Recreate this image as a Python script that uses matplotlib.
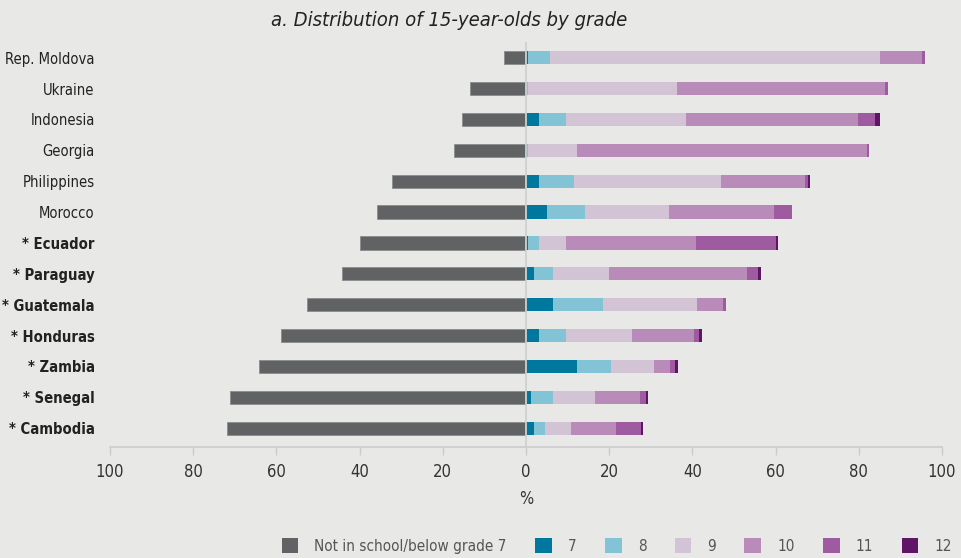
import numpy as np
import matplotlib
matplotlib.use("Agg")
import matplotlib.pyplot as plt
from matplotlib.patches import Patch

# ---- data ---------------------------------------------------------------------
countries = ["Rep. Moldova", "Ukraine", "Indonesia", "Georgia", "Philippines",
             "Morocco", "* Ecuador", "* Paraguay", "* Guatemala", "* Honduras",
             "* Zambia", "* Senegal", "* Cambodia"]
not_in_school = [5.2, 13.5, 15.4, 17.3, 32.1, 35.9, 39.8, 44.3, 52.6, 59.0, 64.1, 71.2, 71.8]
grade7 = [0.6, 0.0, 3.2, 0.3, 3.2, 5.1, 0.6, 1.9, 6.4, 3.2, 12.2, 1.3, 1.9]
grade8 = [5.2, 0.5, 6.4, 0.3, 8.3, 9.0, 2.6, 4.6, 12.2, 6.4, 8.3, 5.2, 2.6]
grade9 = [79.3, 35.9, 28.8, 11.6, 35.3, 20.4, 6.4, 13.4, 22.4, 15.9, 10.2, 10.1, 6.3]
grade10 = [10.2, 49.8, 41.5, 69.7, 20.3, 25.0, 31.2, 33.2, 6.3, 14.8, 3.9, 10.8, 10.9]
grade11 = [0.6, 0.8, 4.0, 0.6, 0.8, 4.5, 19.4, 2.7, 0.7, 1.3, 1.3, 1.4, 5.9]
grade12 = [0.0, 0.0, 1.2, 0.0, 0.4, 0.0, 0.5, 0.6, 0.0, 0.6, 0.6, 0.6, 0.6]
grade_labels = ["7", "8", "9", "10", "11", "12"]
xticks = [-100, -80, -60, -40, -20, 0, 20, 40, 60, 80, 100]

# ---- style --------------------------------------------------------------------
bg = "#e8e9e6"
c_gray = "#616264"
grade_colors = ["#00789e", "#82c4d5", "#d2c3d5", "#b88bb8", "#9f5ba0", "#601466"]

plt.rcParams["font.family"] = ["DejaVu Sans"]
plt.rcParams["font.stretch"] = "condensed"   # uses DejaVu Sans Condensed if it is there

fig = plt.figure(figsize=(9.62, 5.58), dpi=100, facecolor=bg)
ax = fig.add_axes([0.1143, 0.1995, 0.8649, 0.7258], facecolor=bg)

y = np.arange(len(countries))
h = 0.43

ax.barh(y, -np.array(not_in_school), height=h, color=c_gray,
        edgecolor="#8a8b8c", linewidth=0.6, zorder=2)

grades = [grade7, grade8, grade9, grade10, grade11, grade12]
left = np.zeros(len(countries))
for vals, col in zip(grades, grade_colors):
    vals = np.array(vals)
    ax.barh(y, vals, left=left, height=h, color=col, linewidth=0, zorder=2)
    left += vals

ax.axvline(0, color="#cfd0cf", lw=1.3, zorder=3)

ax.set_xlim(-100, 100)
ax.set_ylim(12.6, -0.52)
ax.set_xticks(xticks)
ax.set_xticklabels([str(abs(t)) for t in xticks], fontsize=12, color="#333333")
ax.tick_params(axis="x", direction="out", length=6, width=1, color="#cccccc", pad=6)
ax.set_yticks(y)
ax.set_yticklabels(countries, fontsize=10.6, color="#222222")
for lab in ax.get_yticklabels():
    if lab.get_text().startswith("*"):
        lab.set_fontweight("bold")
ax.tick_params(axis="y", length=0, pad=11)

for s in ["top", "right", "left"]:
    ax.spines[s].set_visible(False)
ax.spines["bottom"].set_color("#cccccc")
ax.spines["bottom"].set_linewidth(1.2)

ax.set_xlabel("%", fontsize=12, color="#333333", labelpad=6)

fig.text(449 / 962, 1 - 20 / 558, "a. Distribution of 15-year-olds by grade",
         ha="center", va="center", fontsize=14.5, style="italic", color="#222222")

handles = [Patch(facecolor=c_gray, label="Not in school/below grade 7")]
handles += [Patch(facecolor=c, label=l) for c, l in zip(grade_colors, grade_labels)]
leg = fig.legend(handles=handles, ncol=7, loc="center right",
                 bbox_to_anchor=(958 / 962, 1 - 546 / 558), frameon=False,
                 fontsize=11, handlelength=1.1, handleheight=1.15,
                 handletextpad=1.05, columnspacing=1.85, borderaxespad=0)
for t in leg.get_texts():
    t.set_color("#555555")

fig.savefig("out.png", dpi=100, facecolor=bg)
